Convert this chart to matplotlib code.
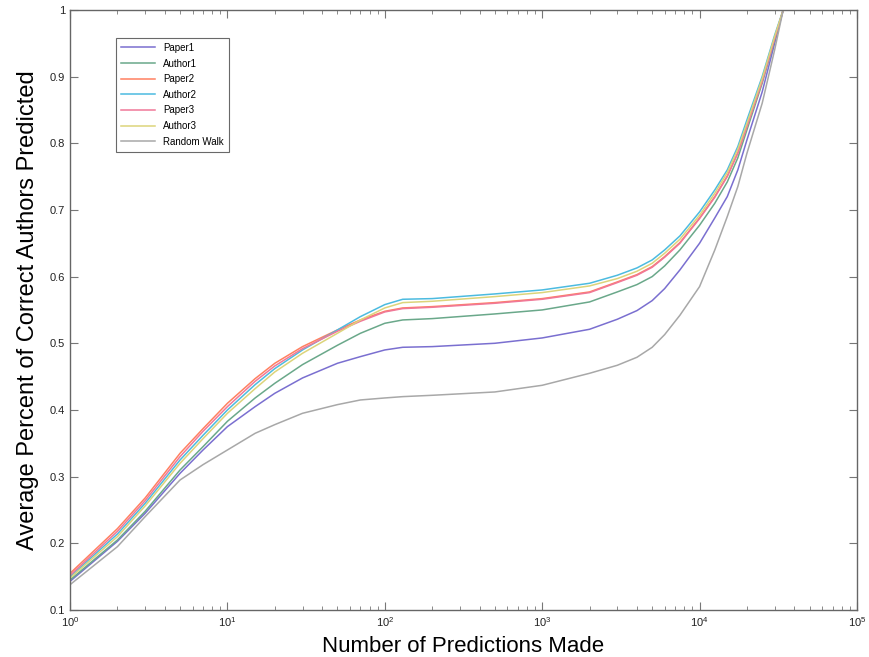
import matplotlib.pyplot as plt
import numpy as np
from matplotlib.ticker import LogLocator, FixedLocator, FixedFormatter

# x positions (number of predictions made)
n_pred = [1, 2, 3, 5, 7, 10, 15, 20, 30, 50, 70, 100, 130, 200, 500, 1000,
          2000, 3000, 4000, 5000, 6000, 7500, 10000, 12500, 15000, 17500, 20000, 25000, 30000, 34000]

paper1 = [0.143, 0.203, 0.245, 0.305, 0.340, 0.375, 0.405, 0.425, 0.448, 0.470, 0.480, 0.490, 0.494,
          0.495, 0.500, 0.508, 0.521, 0.536, 0.549, 0.564, 0.582, 0.610, 0.650, 0.688, 0.720, 0.760,
          0.805, 0.877, 0.950, 1.0]
author1 = [0.145, 0.205, 0.248, 0.310, 0.345, 0.383, 0.418, 0.440, 0.468, 0.497, 0.515, 0.530, 0.535,
           0.537, 0.544, 0.550, 0.562, 0.577, 0.588, 0.600, 0.616, 0.640, 0.677, 0.710, 0.742, 0.778,
           0.820, 0.890, 0.955, 1.0]
paper2 = [0.155, 0.222, 0.268, 0.335, 0.372, 0.410, 0.447, 0.470, 0.495, 0.520, 0.535, 0.548, 0.553,
          0.555, 0.561, 0.567, 0.577, 0.592, 0.603, 0.615, 0.630, 0.651, 0.688, 0.720, 0.751, 0.786,
          0.826, 0.894, 0.958, 1.0]
author2 = [0.150, 0.214, 0.260, 0.325, 0.362, 0.400, 0.438, 0.462, 0.490, 0.520, 0.540, 0.558, 0.566,
           0.567, 0.574, 0.580, 0.590, 0.602, 0.613, 0.625, 0.640, 0.661, 0.697, 0.730, 0.760, 0.795,
           0.835, 0.900, 0.962, 1.0]
paper3 = [0.152, 0.218, 0.264, 0.330, 0.368, 0.405, 0.443, 0.466, 0.492, 0.518, 0.533, 0.547, 0.552,
          0.554, 0.560, 0.566, 0.576, 0.591, 0.602, 0.614, 0.629, 0.650, 0.687, 0.719, 0.750, 0.785,
          0.825, 0.893, 0.957, 1.0]
author3 = [0.148, 0.210, 0.256, 0.320, 0.357, 0.395, 0.432, 0.457, 0.485, 0.515, 0.535, 0.553, 0.561,
           0.563, 0.570, 0.576, 0.586, 0.597, 0.608, 0.620, 0.635, 0.656, 0.692, 0.725, 0.756, 0.791,
           0.830, 0.897, 0.960, 1.0]
random_walk = [0.138, 0.195, 0.240, 0.295, 0.318, 0.340, 0.365, 0.378, 0.395, 0.408, 0.415, 0.418, 0.420,
               0.422, 0.427, 0.437, 0.455, 0.467, 0.479, 0.494, 0.513, 0.542, 0.585, 0.640, 0.690, 0.735,
               0.785, 0.860, 0.940, 1.0]

series = [
    ('Paper1', paper1, '#7a6fd0'),
    ('Author1', author1, '#6aa88a'),
    ('Paper2', paper2, '#ff8060'),
    ('Author2', author2, '#4cbbe0'),
    ('Paper3', paper3, '#f07898'),
    ('Author3', author3, '#dcd47a'),
    ('Random Walk', random_walk, '#a8a8a8'),
]

y_ticks = [0.1, 0.2, 0.3, 0.4, 0.5, 0.6, 0.7, 0.8, 0.9, 1.0]
y_labels = ['0.1', '0.2', '0.3', '0.4', '0.5', '0.6', '0.7', '0.8', '0.9', '1']

plt.rcParams['font.family'] = ['Liberation Sans', 'DejaVu Sans']

fig = plt.figure(figsize=(8.7, 6.57), dpi=100)
ax = fig.add_axes([0.0805, 0.0715, 0.9045, 0.9135])

for name, vals, col in series:
    ax.plot(n_pred, vals, color=col, linewidth=1.1, label=name)

ax.set_xscale('log')
ax.set_xlim(1, 1e5)
ax.set_ylim(0.1, 1.0)
ax.yaxis.set_major_locator(FixedLocator(y_ticks))
ax.yaxis.set_major_formatter(FixedFormatter(y_labels))
ax.xaxis.set_major_locator(LogLocator(base=10, numticks=10))
ax.xaxis.set_minor_locator(LogLocator(base=10, subs=np.arange(2, 10), numticks=20))

ax.tick_params(which='both', direction='in', top=True, right=True, labelsize=8, colors='#222222')
ax.tick_params(which='major', length=6, color='#777777')
ax.tick_params(which='minor', length=3, color='#777777')
for sp in ax.spines.values():
    sp.set_color('#666666')
    sp.set_linewidth(1.0)

ax.set_xlabel('Number of Predictions Made', fontsize=16, labelpad=5)
ax.set_ylabel('Average Percent of Correct Authors Predicted', fontsize=17, labelpad=8)

leg = ax.legend(loc='upper left', bbox_to_anchor=(0.052, 0.962), fontsize=7,
                frameon=True, fancybox=False, handlelength=3.5, labelspacing=0.58,
                borderpad=0.55)
leg.get_frame().set_edgecolor('#444444')
leg.get_frame().set_linewidth(0.8)

plt.savefig('out.png', dpi=100)
plt.close()
